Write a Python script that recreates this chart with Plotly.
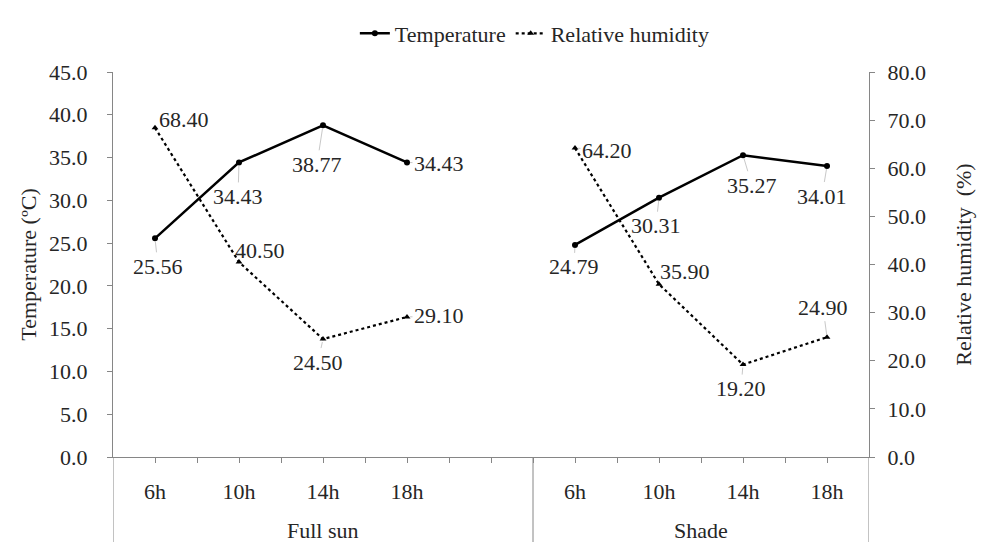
import plotly.graph_objects as go

# ---- data ----
groups = ["Full sun", "Shade"]
hours = ["6h", "10h", "14h", "18h"]
temp_full_sun = [25.56, 34.43, 38.77, 34.43]
temp_shade = [24.79, 30.31, 35.27, 34.01]
rh_full_sun = [68.40, 40.50, 24.50, 29.10]
rh_shade = [64.20, 35.90, 19.20, 24.90]
temp_ticks = [0, 5, 10, 15, 20, 25, 30, 35, 40, 45]
rh_ticks = [0, 10, 20, 30, 40, 50, 60, 70, 80]

# ---- layout helpers (category slots per group: Full sun has one blank slot) ----
group_slots = [5, 4]
group_start = [0, group_slots[0]]
n_slots = sum(group_slots)


def xpos(g, i):
    return group_start[g] + i + 0.5


x_all = [xpos(0, i) for i in range(len(hours))] + [None] + [xpos(1, i) for i in range(len(hours))]
t_all = temp_full_sun + [None] + temp_shade
h_all = rh_full_sun + [None] + rh_shade

FONT = "Liberation Serif"
TXT = "#262626"
AX = "#868686"


def fnt(size=22):
    return dict(family=FONT, size=size, color=TXT)


fig = go.Figure()
fig.add_trace(go.Scatter(
    x=x_all, y=t_all, name="Temperature", mode="lines+markers",
    line=dict(color="black", width=2.5), marker=dict(symbol="circle", size=6, color="black"),
    connectgaps=False, yaxis="y"))
fig.add_trace(go.Scatter(
    x=x_all, y=h_all, name="Relative humidity", mode="lines+markers",
    line=dict(color="black", width=2.2, dash="dot"),
    marker=dict(symbol="triangle-up", size=6, color="black"),
    connectgaps=False, yaxis="y2"))

# label offsets (pixels, text centre relative to point)
temp_off = [(3, 28), (-1, 34), (-6, 39), (32, 1), (-1, 22), (-3, 28), (9, 30), (-5, 30)]
rh_off = [(29, -8), (21, -12), (-5, 23), (32, -1), (32, 2), (26, -13), (-2, 24), (-4, -30)]

annotations = []
temps = temp_full_sun + temp_shade
rhs = rh_full_sun + rh_shade
xs = [xpos(0, i) for i in range(len(hours))] + [xpos(1, i) for i in range(len(hours))]
for k in range(len(xs)):
    for val, off, yref in ((temps[k], temp_off[k], "y"), (rhs[k], rh_off[k], "y2")):
        annotations.append(dict(
            x=xs[k], y=val, xref="x", yref=yref, text=f"{val:.2f}",
            showarrow=True, ax=off[0], ay=off[1],
            arrowhead=0, arrowwidth=1, arrowcolor="#c8c8c8", standoff=3,
            font=fnt()))

for g, name in enumerate(groups):
    annotations.append(dict(
        x=group_start[g] + group_slots[g] / 2, y=-0.19, xref="x", yref="paper",
        text=name, showarrow=False, yanchor="middle", font=fnt()))

shapes = []
for xv in (0, group_slots[0], n_slots):
    shapes.append(dict(type="line", xref="x", yref="paper", x0=xv, x1=xv, y0=0, y1=-0.25,
                       line=dict(color=AX, width=1)))

tickvals = [i * 0.5 for i in range(1, 2 * n_slots)]
ticktext = []
for tv in tickvals:
    lab = ""
    for g in range(len(groups)):
        for i, h in enumerate(hours):
            if abs(xpos(g, i) - tv) < 1e-9:
                lab = h
    ticktext.append(lab)

fig.update_layout(
    template="none",
    width=984, height=542,
    margin=dict(l=113, r=115, t=66, b=85),
    paper_bgcolor="white", plot_bgcolor="white",
    font=fnt(),
    showlegend=True,
    legend=dict(orientation="h", x=0.558, xanchor="center", y=1.1, yanchor="middle",
                font=fnt(), itemwidth=30, bgcolor="rgba(0,0,0,0)"),
    xaxis=dict(range=[0, n_slots], tickvals=tickvals, ticktext=ticktext,
               showgrid=False, zeroline=False, showline=True, linecolor=AX, linewidth=1,
               ticks="outside", ticklen=5, tickcolor=AX, ticklabelstandoff=10,
               tickfont=fnt()),
    yaxis=dict(range=[0, 45], tickvals=temp_ticks, tickformat=".1f",
               showgrid=False, zeroline=False, showline=True, linecolor=AX, linewidth=1,
               ticks="outside", ticklen=5, tickcolor=AX, ticklabelstandoff=15,
               tickfont=fnt(),
               title=dict(text="Temperature (ºC)", standoff=6, font=fnt())),
    yaxis2=dict(range=[0, 80], tickvals=rh_ticks, tickformat=".1f", overlaying="y", side="right",
                showgrid=False, zeroline=False, showline=True, linecolor=AX, linewidth=1,
                ticks="outside", ticklen=5, tickcolor=AX, ticklabelstandoff=8,
                tickfont=fnt(),
                title=dict(text="Relative humidity  (%)", standoff=30, font=fnt())),
    annotations=annotations, shapes=shapes,
)

fig.write_html("out.html")
